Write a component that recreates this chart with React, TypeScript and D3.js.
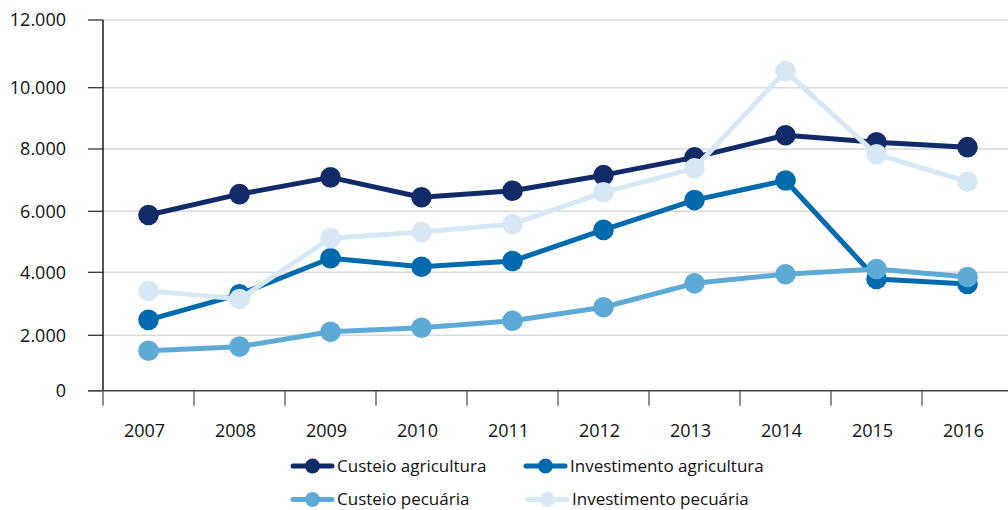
import React from "react";
import * as d3 from "d3";

const years = ["2007", "2008", "2009", "2010", "2011", "2012", "2013", "2014", "2015", "2016"];
const custeioAgricultura = [5880, 6550, 7090, 6450, 6660, 7160, 7730, 8450, 8220, 8060];
const investimentoAgricultura = [2490, 3300, 4460, 4180, 4370, 5390, 6360, 6990, 3790, 3630];
const custeioPecuaria = [1440, 1590, 2110, 2240, 2460, 2890, 3650, 3940, 4110, 3850];
const investimentoPecuaria = [3410, 3150, 5120, 5320, 5580, 6610, 7380, 10490, 7830, 6950];
const yTicks = [0, 2000, 4000, 6000, 8000, 10000, 12000];
const yTickLabels = ["0", "2.000", "4.000", "6.000", "8.000", "10.000", "12.000"];
const seriesNames = ["Custeio agricultura", "Investimento agricultura", "Custeio pecuária", "Investimento pecuária"];
const seriesColors = ["#112b69", "#006aae", "#5eaad7", "#d7e8f4"];

const W = 1008;
const H = 510;
const FONT = "'Open Sans', 'Noto Sans', sans-serif";

export default function App() {
  const seriesValues = [custeioAgricultura, investimentoAgricultura, custeioPecuaria, investimentoPecuaria];

  const x = d3.scaleBand<string>().domain(years).range([103, 1013]).padding(0);
  const y = d3.scaleLinear().domain(yTicks).range([390.7, 335.3, 272.3, 211.3, 149, 87.7, 20]);
  const cx = (yr: string) => (x(yr) as number) + x.bandwidth() / 2;

  const line = d3
    .line<number>()
    .x((_, i) => cx(years[i]))
    .y((d) => y(d));

  const legendPos = [
    { x0: 293, y: 466 },
    { x0: 526, y: 466 },
    { x0: 293, y: 499.5 },
    { x0: 528, y: 499.5 },
  ];

  return (
    <svg
      width={W}
      height={H}
      style={{ position: "absolute", left: 0, top: 0, background: "#fff" }}
      fontFamily={FONT}
    >
      {/* grid */}
      {yTicks.map((t) =>
        t === 0 ? null : (
          <line key={"g" + t} x1={103} x2={W} y1={y(t)} y2={y(t)} stroke="#d9d9d9" strokeWidth={1.5} />
        )
      )}
      {/* y ticks & labels */}
      {yTicks.map((t, i) => (
        <g key={"yt" + t}>
          <line x1={88} x2={103} y1={y(t)} y2={y(t)} stroke="#333" strokeWidth={1.3} />
          <text x={66} y={y(t)} dy="0.36em" textAnchor="end" fontSize={18} fill="#111">
            {yTickLabels[i]}
          </text>
        </g>
      ))}
      {/* axes */}
      <line x1={103} x2={103} y1={20} y2={y(0)} stroke="#1a1a1a" strokeWidth={1.5} />
      <line x1={88} x2={W} y1={y(0)} y2={y(0)} stroke="#444" strokeWidth={1.5} />
      {years.map((yr) => (
        <g key={"xt" + yr}>
          <line x1={x(yr)} x2={x(yr)} y1={y(0)} y2={y(0) + 15} stroke="#555" strokeWidth={1.3} />
          <text x={cx(yr) - 4} y={437} textAnchor="middle" fontSize={18} fill="#111">
            {yr}
          </text>
        </g>
      ))}
      {/* series */}
      {seriesValues.map((vals, s) => (
        <g key={"s" + s}>
          <path d={line(vals) || ""} fill="none" stroke={seriesColors[s]} strokeWidth={5} strokeLinejoin="round" />
          {vals.map((v, i) => (
            <circle key={i} cx={cx(years[i])} cy={y(v)} r={10.3} fill={seriesColors[s]} />
          ))}
        </g>
      ))}
      {/* legend */}
      {seriesNames.map((name, s) => {
        const p = legendPos[s];
        return (
          <g key={"l" + s}>
            <line
              x1={p.x0}
              x2={p.x0 + 39}
              y1={p.y}
              y2={p.y}
              stroke={seriesColors[s]}
              strokeWidth={5}
              strokeLinecap="round"
            />
            <circle cx={p.x0 + 19.5} cy={p.y} r={7.5} fill={seriesColors[s]} />
            <text x={p.x0 + 44} y={p.y + 5.8} fontSize={17} fill="#111">
              {name}
            </text>
          </g>
        );
      })}
    </svg>
  );
}
